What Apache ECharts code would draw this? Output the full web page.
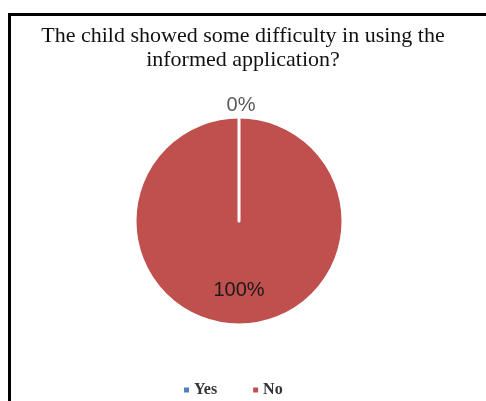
<!DOCTYPE html>
<html>
<head>
<meta charset="utf-8">
<script src="https://cdn.jsdelivr.net/npm/echarts@6/dist/echarts.min.js"></script>
<style>
html,body{margin:0;padding:0;background:#fff;}
#frame{position:absolute;left:8px;top:13px;width:478px;height:388px;border-left:3px solid #000;border-top:3px solid #000;box-sizing:border-box;}
#chart{position:absolute;left:0;top:0;width:486px;height:401px;}
</style>
</head>
<body>
<div id="frame"></div>
<div id="chart"></div>
<script>
const titleText = 'The child showed some difficulty in using the\ninformed application?';
const categories = ['Yes', 'No'];
const values = [0, 100];
const percentLabels = ['0%', '100%'];
const colors = ['#4F81BD', '#C0504D'];

const chart = echarts.init(document.getElementById('chart'), null, {renderer: 'canvas'});
// Draw order: No first (full circle), then Yes (zero-width slice) so its white border line shows on top
const order = [1, 0];
chart.setOption({
  animation: false,
  title: {
    text: titleText,
    left: 'center',
    top: 19,
    textStyle: {fontFamily: 'Liberation Serif', fontSize: 22, fontWeight: 'normal', color: '#111', lineHeight: 24}
  },
  legend: {
    data: categories,
    left: 177,
    top: 377,
    icon: 'rect',
    itemWidth: 7,
    itemHeight: 7,
    itemGap: 34,
    textStyle: {fontFamily: 'Liberation Serif', fontSize: 16, fontWeight: 'bold', color: '#333', padding: [0, 0, 0, -1]}
  },
  series: [{
    type: 'pie',
    center: [239, 221],
    radius: 104,
    startAngle: 90,
    clockwise: true,
    avoidLabelOverlap: false,
    stillShowZeroSum: true,
    data: order.map(i => ({
      name: categories[i],
      value: values[i],
      itemStyle: {color: colors[i]},
      label: i === 0 ? {
        position: 'outside', color: '#595959'
      } : {
        position: 'inside', color: '#1a1a1a'
      }
    })),
    itemStyle: {borderColor: '#fff', borderWidth: 3},
    label: {
      show: true,
      fontFamily: 'Liberation Sans',
      fontSize: 20,
      formatter: p => percentLabels[categories.indexOf(p.name)]
    },
    labelLine: {show: false, length: 4, length2: 0},
    labelLayout: p => (p.dataIndex === 1 ? {align: 'center', dx: -3, dy: -8} : {dy: 14})
  }]
});
</script>
</body>
</html>
